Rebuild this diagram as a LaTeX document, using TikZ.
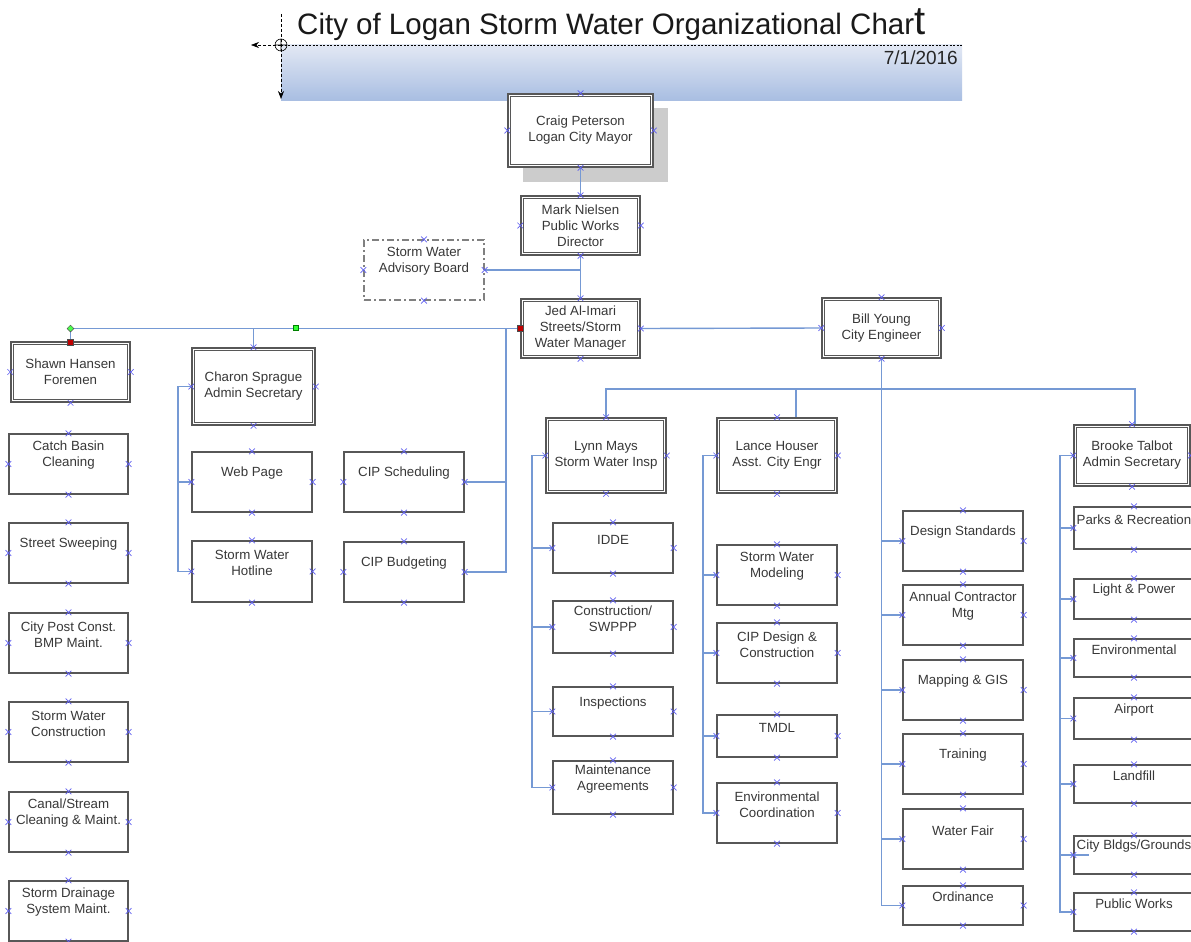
\documentclass[tikz,border=0pt]{standalone}
\usepackage{fontspec}
\setmainfont{Liberation Sans}
\usetikzlibrary{fit,shapes.misc,shapes.geometric,arrows.meta}
\definecolor{boxgray}{HTML}{575757}
\definecolor{txtgray}{HTML}{383838}
\definecolor{connblue}{HTML}{7599D4}
\definecolor{xblue}{RGB}{95,95,240}
\definecolor{hdrtop}{HTML}{E2E8F4}
\definecolor{hdrbot}{HTML}{A9BEE2}
\definecolor{shadowgray}{HTML}{CCCCCC}
\tikzset{
  sbox/.style={draw=boxgray,line width=1.3pt,fill=white,inner sep=0pt,rectangle},
  dbox/.style={draw=boxgray,line width=1.5pt,fill=white,inner sep=0pt,rectangle},
  dinner/.style={draw=boxgray,line width=1.2pt},
  abox/.style={draw=gray,line width=1.3pt,dash pattern=on 7pt off 3pt on 2pt off 3pt,inner sep=0pt,rectangle},
  lbl/.style={font=\fontsize{13.3}{16}\selectfont,text=txtgray,align=center,inner sep=0pt},
  conn/.style={draw=connblue,line width=1.4pt},
  xm/.style={cross out,draw=xblue,minimum size=5pt,inner sep=0pt,line width=0.7pt},
  redsq/.style={draw=black!70,fill=red!75!black,minimum size=6pt,inner sep=0pt,line width=0.5pt,rectangle},
  grsq/.style={draw=green!50!black,fill=green!80!white,minimum size=5pt,inner sep=0pt,line width=0.4pt,rectangle},
  grdiam/.style={diamond,draw=black!70,fill=green!70!white,minimum size=7pt,inner sep=0pt,line width=0.5pt},
  guide/.style={black,line width=0.6pt,dash pattern=on 3pt off 2pt},
}
\newcommand\SB[6]{\node[sbox,fit={(#2,#3)(#4,#5)}] (#1) {};\node[lbl] at ([yshift=8.5pt]#1.center) {#6};}
\newcommand\DB[6]{\node[dbox,fit={(#2,#3)(#4,#5)}] (#1) {};
  \draw[dinner] ([shift={(3.2pt,-3.2pt)}]#1.north west) rectangle ([shift={(-3.2pt,3.2pt)}]#1.south east);
  \node[lbl] at (#1.center) {#6};}
\begin{document}
\begin{tikzpicture}[x=1pt,y=-1pt]
\clip (0,0) rectangle (1191,942);
\fill[white] (0,0) rectangle (1191,942);
% header
\shade[top color=hdrtop,bottom color=hdrbot] (281,45) rectangle (962,100);
\draw[black,line width=0.6pt,dash pattern=on 2pt off 1.5pt] (281,45) -- (962,45);
\draw[guide,-{Stealth[length=8pt,width=6pt]}] (281,14) -- (281,99);
\draw[guide,-{Stealth[length=8pt,width=6pt]}] (281,45) -- (251,45);
\draw[black,line width=0.6pt] (281,45) circle (6pt) (275,45) -- (287,45) (281,39) -- (281,51);
\node[anchor=base west,inner sep=0pt,font=\fontsize{29.5}{30}\selectfont,text=black!90] (title) at (297,35) {City of Logan Storm Water Organizational Char{\fontsize{40}{40}\selectfont t}};
\node[anchor=base east,inner sep=0pt,font=\fontsize{19}{20}\selectfont,text=black!85] (date) at (958,64) {7/1/2016};
% mayor shadow
\fill[shadowgray] (523,108) rectangle (668,182);
% double boxes
\DB{mayor}{508}{94}{653}{167}{Craig Peterson\\Logan City Mayor}
\DB{mark}{521}{196}{640}{255}{Mark Nielsen\\Public Works\\Director}
\DB{jed}{521}{299}{640}{358}{Jed Al-Imari\\Streets/Storm\\Water Manager}
\DB{bill}{822}{298}{941}{358}{Bill Young\\City Engineer}
\DB{shawn}{11}{342}{130}{402}{Shawn Hansen\\Foremen}
\DB{charon}{192}{348}{315}{425}{Charon Sprague\\Admin Secretary}
\DB{lynn}{546}{418}{666}{493}{Lynn Mays\\Storm Water Insp}
\DB{lance}{717}{418}{837}{493}{Lance Houser\\Asst. City Engr}
\DB{brooke}{1074}{425}{1190}{486}{Brooke Talbot\\Admin Secretary}
% advisory board
\node[abox,fit={(364,240)(484,300)}] (adv) {};
\node[lbl] at ([yshift=8.5pt]adv.center) {Storm Water\\Advisory Board};
% left column
\SB{cb}{9}{434}{128}{494}{Catch Basin\\Cleaning}
\SB{ss}{9}{523}{128}{583}{Street Sweeping}
\SB{cp}{9}{613}{128}{673}{City Post Const.\\BMP Maint.}
\SB{swc}{9}{702}{128}{762}{Storm Water\\Construction}
\SB{cs}{9}{792}{128}{852}{Canal/Stream\\Cleaning \& Maint.}
\SB{sd}{9}{881}{128}{941}{Storm Drainage\\System Maint.}
% charon children
\SB{web}{192}{452}{312}{512}{Web Page}
\SB{hot}{192}{541}{312}{602}{Storm Water\\Hotline}
\SB{cips}{344}{452}{464}{512}{CIP Scheduling}
\SB{cipb}{344}{542}{464}{602}{CIP Budgeting}
% lynn children
\SB{idde}{553}{523}{673}{573}{IDDE}
\SB{cons}{553}{601}{673}{653}{Construction/\\SWPPP}
\SB{insp}{553}{687}{673}{736}{Inspections}
\SB{maint}{553}{761}{673}{814}{Maintenance\\Agreements}
% lance children
\SB{swm}{717}{545}{837}{605}{Storm Water\\Modeling}
\SB{cipd}{717}{623}{837}{683}{CIP Design \&\\Construction}
\SB{tmdl}{717}{715}{837}{757}{TMDL}
\SB{env}{717}{783}{837}{843}{Environmental\\Coordination}
% bill children
\SB{ds}{903}{511}{1023}{571}{Design Standards}
\SB{acm}{903}{585}{1023}{645}{Annual Contractor\\Mtg}
\SB{gis}{903}{660}{1023}{720}{Mapping \& GIS}
\SB{trn}{903}{734}{1023}{794}{Training}
\SB{wf}{903}{809}{1023}{869}{Water Fair}
\SB{ord}{903}{886}{1023}{925}{Ordinance}
% brooke children
\SB{parks}{1074}{507}{1194}{549}{Parks \& Recreation}
\SB{lp}{1074}{579}{1194}{619}{Light \& Power}
\SB{envr}{1074}{639}{1194}{677}{Environmental}
\SB{air}{1074}{698}{1194}{739}{Airport}
\SB{land}{1074}{765}{1194}{803}{Landfill}
\SB{city}{1074}{836}{1194}{874}{City Bldgs/Grounds}
\SB{pw}{1074}{893}{1194}{931}{Public Works}
% trunk coordinates
\coordinate (chb) at (178,0);
\coordinate (cipx) at (506,0);
\coordinate (lb) at (532,0);
\coordinate (lcb) at (703,0);
\coordinate (brb) at (1060,0);
\coordinate (hb) at (0,389);
% connectors
\draw[conn] (mayor.south) -- (mark.north);
\draw[conn] (mark.south) -- (jed.north);
\draw[conn] (adv.east) -- (adv.east -| mark.south);
\draw[conn] (jed.east) -- (bill.west);
\draw[conn] (jed.west) -- (jed.west -| shawn.north);
\draw[conn] (shawn.north |- jed.west) -- (shawn.north);
\draw[conn] (charon.north |- jed.west) -- (charon.north);
\draw[conn] (cipx |- jed.west) -- (cipx |- cipb.east) -- (cipb.east);
\draw[conn] (cips.east) -- (cips.east -| cipx);
\draw[conn] (charon.west) -- (charon.west -| chb) -- (hot.west -| chb) -- (hot.west);
\draw[conn] (web.west -| chb) -- (web.west);
% bill
\draw[conn] (bill.south) -- (ord.west -| bill.south) -- (ord.west);
\foreach \n in {ds,acm,gis,trn,wf} \draw[conn] (\n.west -| bill.south) -- (\n.west);
\draw[conn] (lynn.north) -- (lynn.north |- hb) -- ([xshift=3pt]brooke.north |- hb) -- ([xshift=3pt]brooke.north);
\draw[conn] ([xshift=19pt]lance.north |- hb) -- ([xshift=19pt]lance.north);
% lynn
\draw[conn] (lynn.west) -- (lynn.west -| lb) -- (maint.west -| lb) -- (maint.west);
\foreach \n in {idde,cons,insp} \draw[conn] (\n.west -| lb) -- (\n.west);
% lance
\draw[conn] (lance.west) -- (lance.west -| lcb) -- (env.west -| lcb) -- (env.west);
\foreach \n in {swm,cipd,tmdl} \draw[conn] (\n.west -| lcb) -- (\n.west);
% brooke
\draw[conn] (brooke.west) -- (brooke.west -| brb) -- (pw.west -| brb) -- (pw.west);
\foreach \n in {parks,lp,envr,air,land} \draw[conn] (\n.west -| brb) -- (\n.west);
\draw[conn] (city.west -| brb) -- ([xshift=16pt]city.west);
% connection point markers
\foreach \n in {mayor,mark,bill,charon,lynn,lance,brooke,adv,cb,ss,cp,swc,cs,sd,web,hot,cips,cipb,idde,cons,insp,maint,swm,cipd,tmdl,env,ds,acm,gis,trn,wf,ord,parks,lp,envr,air,land,city,pw}
  \foreach \a in {north,south,east,west} \node[xm] at (\n.\a) {};
\foreach \a in {north,south,east} \node[xm] at (jed.\a) {};
\foreach \a in {south,east,west} \node[xm] at (shawn.\a) {};
% glue points
\node[redsq] (rs1) at (jed.west) {};
\node[redsq] (rs2) at ([yshift=-1pt]shawn.north) {};
\node[grdiam] (gd) at (shawn.north |- jed.west) {};
\node[grsq] (gs) at (296,328) {};
\end{tikzpicture}
\end{document}
